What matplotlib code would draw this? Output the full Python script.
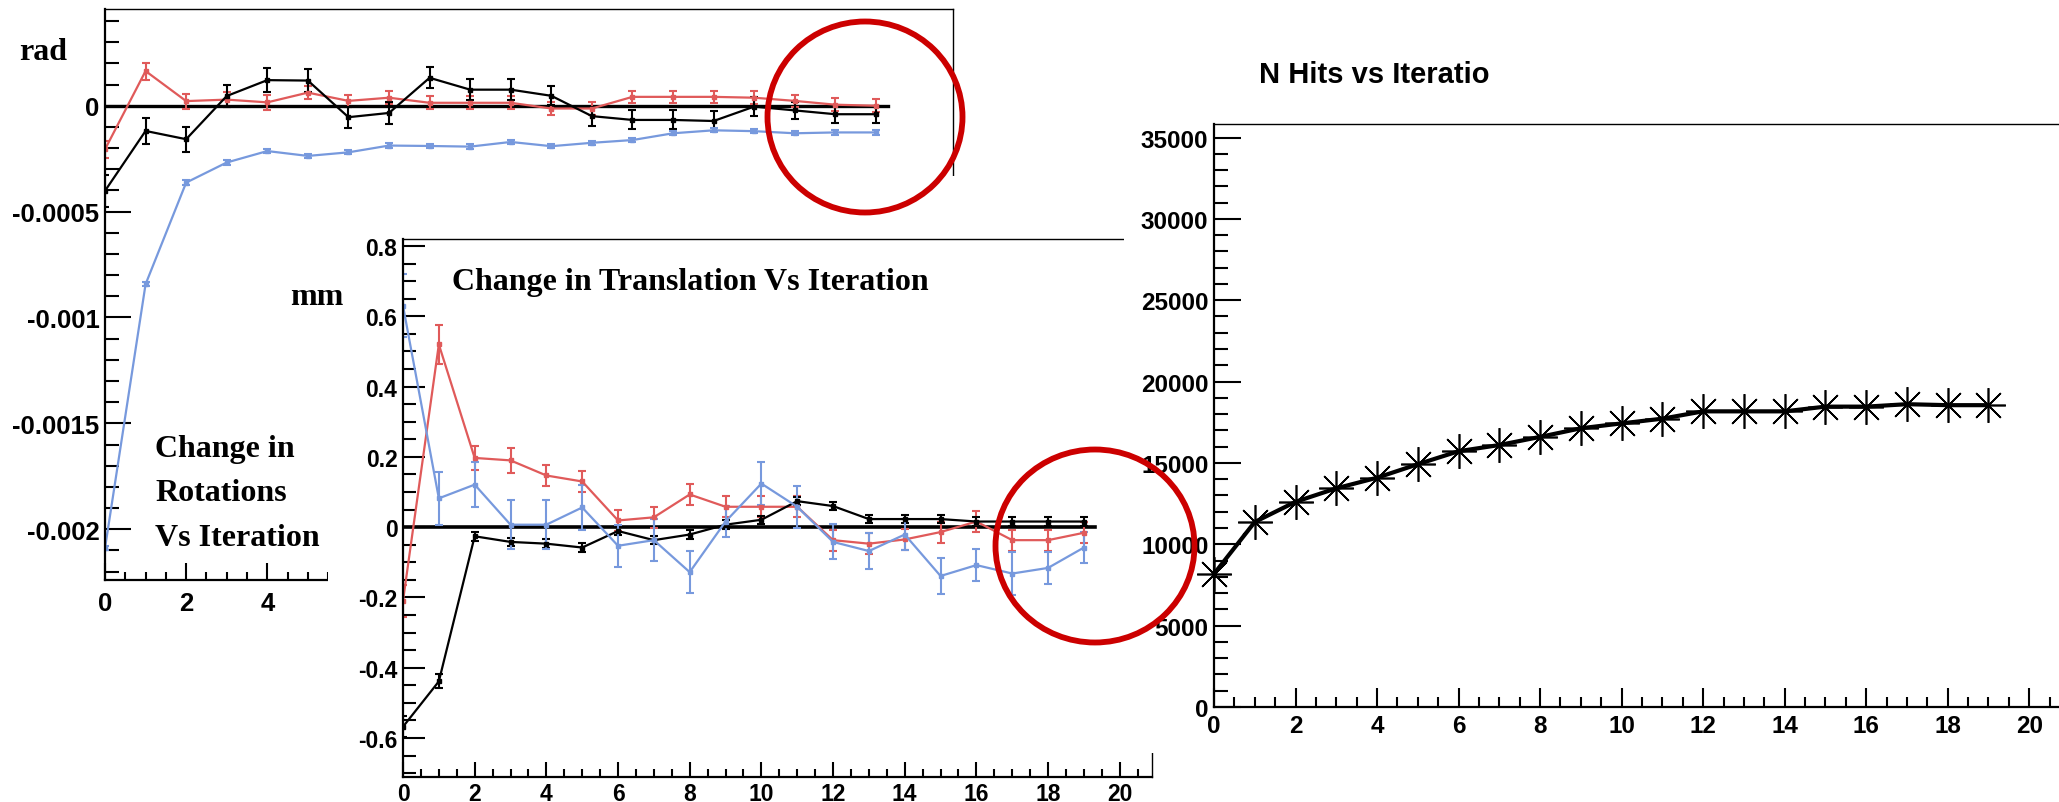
import matplotlib
matplotlib.use("Agg")
import matplotlib.pyplot as plt
from matplotlib.patches import Ellipse
from matplotlib.ticker import FixedLocator, MultipleLocator

# ---- data ----
iterations = list(range(20))

rot_black = [-4.02e-4, -1.19e-4, -1.58e-4, 4.6e-5, 1.21e-4, 1.19e-4, -5.4e-5, -3.4e-5,
             1.32e-4, 7.6e-5, 7.6e-5, 4.7e-5, -4.9e-5, -6.7e-5, -6.7e-5, -7.2e-5,
             -4e-6, -2.2e-5, -4e-5, -4e-5]
rot_black_err = [7.5e-5, 6.3e-5, 5.9e-5, 5.3e-5, 5.5e-5, 5.5e-5, 5e-5, 5e-5, 5e-5, 5e-5,
                 5e-5, 4.5e-5, 4.5e-5, 4.5e-5, 4.5e-5, 4.5e-5, 4.5e-5, 4e-5, 4e-5, 4e-5]
rot_red = [-2.06e-4, 1.64e-4, 2.2e-5, 2.9e-5, 1.6e-5, 6.2e-5, 2.3e-5, 3.8e-5, 1.4e-5,
           1.4e-5, 1.4e-5, -1.3e-5, -1.3e-5, 4.2e-5, 4.2e-5, 4.2e-5, 3.8e-5, 2.3e-5,
           5e-6, 0.0]
rot_red_err = [4e-5, 4e-5, 3.5e-5, 3.5e-5, 3.5e-5, 3e-5, 3e-5, 3e-5, 3e-5, 3e-5,
               3e-5, 3e-5, 3e-5, 3e-5, 3e-5, 3e-5, 3e-5, 3e-5, 3e-5, 3e-5]
rot_blue = [-2.09e-3, -8.43e-4, -3.63e-4, -2.68e-4, -2.14e-4, -2.37e-4, -2.2e-4, -1.88e-4,
            -1.9e-4, -1.93e-4, -1.71e-4, -1.91e-4, -1.75e-4, -1.62e-4, -1.3e-4, -1.16e-4,
            -1.2e-4, -1.3e-4, -1.26e-4, -1.26e-4]
rot_blue_err = [1e-5] * 20

tr_black = [-0.568, -0.439, -0.026, -0.042, -0.047, -0.058, -0.011, -0.037, -0.021, 0.007,
            0.021, 0.074, 0.060, 0.023, 0.023, 0.023, 0.016, 0.016, 0.016, 0.016]
tr_black_err = [0.03, 0.02, 0.012, 0.012, 0.012, 0.012, 0.012, 0.012, 0.012, 0.012,
                0.012, 0.012, 0.012, 0.012, 0.012, 0.012, 0.012, 0.012, 0.012, 0.012]
tr_red = [-0.21, 0.52, 0.197, 0.19, 0.147, 0.13, 0.019, 0.028, 0.093, 0.058, 0.058, 0.058,
          -0.037, -0.047, -0.035, -0.014, 0.016, -0.037, -0.037, -0.016]
tr_red_err = [0.045, 0.055, 0.035, 0.035, 0.03, 0.03, 0.03, 0.03, 0.03, 0.03,
              0.03, 0.03, 0.03, 0.03, 0.03, 0.03, 0.03, 0.03, 0.03, 0.03]
tr_blue = [0.63, 0.082, 0.121, 0.007, 0.007, 0.056, -0.053, -0.037, -0.128, 0.016, 0.124,
           0.058, -0.042, -0.068, -0.021, -0.139, -0.108, -0.132, -0.116, -0.058]
tr_blue_err = [0.09, 0.075, 0.065, 0.07, 0.07, 0.065, 0.06, 0.06, 0.06, 0.045, 0.06,
               0.06, 0.05, 0.05, 0.045, 0.05, 0.045, 0.06, 0.045, 0.045]

nhits = [8180, 11370, 12610, 13440, 14090, 14920, 15720, 16100, 16600, 17130, 17430,
         17720, 18170, 18170, 18170, 18460, 18460, 18610, 18550, 18550]

rot_ticks = [-0.002, -0.0015, -0.001, -0.0005, 0]
rot_ticklabels = ["-0.002", "-0.0015", "-0.001", "-0.0005", "0"]
tr_ticks = [-0.6, -0.4, -0.2, 0, 0.2, 0.4, 0.6, 0.8]
tr_ticklabels = ["-0.6", "-0.4", "-0.2", "0", "0.2", "0.4", "0.6", "0.8"]
hits_ticks = [0, 5000, 10000, 15000, 20000, 25000, 30000, 35000]
x_ticks = list(range(0, 21, 2))

RED = "#e05a5a"
BLUE = "#7799dd"
CIRCLE = "#cc0000"
SANS = "Liberation Sans"
SERIF = "Liberation Serif"

W, H = 2059, 803
fig = plt.figure(figsize=(W / 100, H / 100), dpi=100)


def px_axes(x0, y0, x1, y1, z):
    ax = fig.add_axes([x0 / W, 1 - y1 / H, (x1 - x0) / W, (y1 - y0) / H])
    ax.set_zorder(z)
    return ax


def cover(x0, y0, x1, y1, z):
    # white patch that hides the panel beneath, like a pasted screenshot
    ax = px_axes(x0, y0, x1, y1, z)
    ax.set_xticks([])
    ax.set_yticks([])
    for s in ax.spines.values():
        s.set_visible(False)
    ax.set_facecolor("white")
    return ax


def root_style(ax, ymaj, ylen, xlen, fsize, xpad=6):
    ax.tick_params(which="both", direction="in", top=False, right=False, width=1.5,
                   colors="black")
    ax.tick_params(axis="y", which="major", length=ylen[0], pad=4)
    ax.tick_params(axis="y", which="minor", length=ylen[1])
    ax.tick_params(axis="x", which="major", length=xlen[0], pad=xpad)
    ax.tick_params(axis="x", which="minor", length=xlen[1])
    ax.xaxis.set_major_locator(FixedLocator(x_ticks))
    ax.set_xticklabels([str(t) for t in x_ticks])
    ax.xaxis.set_minor_locator(MultipleLocator(0.5))
    ax.yaxis.set_minor_locator(MultipleLocator(ymaj))
    for lab in ax.get_xticklabels() + ax.get_yticklabels():
        lab.set_fontfamily(SANS)
        lab.set_fontweight("bold")
        lab.set_fontsize(fsize)
    ax.spines["left"].set_linewidth(1.6)
    ax.spines["bottom"].set_linewidth(1.6)
    ax.spines["top"].set_linewidth(1.0)
    ax.spines["right"].set_linewidth(1.0)


def series(ax, y, e, c, lw):
    ax.errorbar(iterations, y, yerr=e, color=c, lw=lw, elinewidth=1.5, capsize=3,
                capthick=1.5, marker="s", ms=3)


# ---- panel 1: rotations ----
ax1 = px_axes(105, 10, 953, 581, 0)
ax1.set_xlim(0, 20.9)
ax1.set_ylim(-0.00224, 0.000457)
ax1.yaxis.set_major_locator(FixedLocator(rot_ticks))
ax1.set_yticklabels(rot_ticklabels)
root_style(ax1, 1e-4, (19, 10), (12, 6), 18.5, xpad=8)
ax1.plot([0, iterations[-1] + 0.3], [0, 0], color="black", lw=2.4)
series(ax1, rot_red, rot_red_err, RED, 1.6)
series(ax1, rot_black, rot_black_err, "black", 1.6)
series(ax1, rot_blue, rot_blue_err, BLUE, 1.6)

cover(328, 177, W, H, 1)

# ---- panel 2: translations ----
ax2 = px_axes(403, 240, 1152, 778, 2)
ax2.set_xlim(0, 20.9)
ax2.set_ylim(-0.711, 0.82)
ax2.yaxis.set_major_locator(FixedLocator(tr_ticks))
ax2.set_yticklabels(tr_ticklabels)
root_style(ax2, 0.05, (16, 9), (10.5, 6), 16.5, xpad=3.5)
ax2.plot([0, iterations[-1] + 0.3], [0, 0], color="black", lw=2.6)
series(ax2, tr_red, tr_red_err, RED, 1.6)
series(ax2, tr_black, tr_black_err, "black", 1.6)
series(ax2, tr_blue, tr_blue_err, BLUE, 1.6)

cover(1124, 20, W, 754, 3)

# ---- panel 3: number of hits ----
ax3 = px_axes(1214, 125, 2070, 708, 4)
ax3.set_xlim(0, 21)
ax3.set_ylim(0, 35830)
ax3.yaxis.set_major_locator(FixedLocator(hits_ticks))
ax3.set_yticklabels([str(t) for t in hits_ticks])
root_style(ax3, 1000, (19.5, 10), (14, 7), 17.5, xpad=5)
ax3.plot(iterations, nhits, color="black", lw=3, marker=(8, 2, 0), ms=25, mew=1.2,
         clip_on=False)

# ---- overlay texts and red circles ----
ov = px_axes(0, 0, W, H, 5)
ov.set_xlim(0, W)
ov.set_ylim(H, 0)
ov.axis("off")
serif = dict(family=SERIF, weight="bold", fontsize=23, color="black")
ov.text(19, 52, "rad", va="center", ha="left", **serif)
ov.text(290, 298, "mm", va="center", ha="left", **serif)
ov.text(690, 283, "Change in Translation Vs Iteration", va="center", ha="center", **serif)
ov.text(155, 494, "Change in\nRotations\nVs Iteration", va="center", ha="left",
        linespacing=1.72, **serif)
ov.text(1259, 75, "N Hits vs Iteratio", va="center", ha="left", family=SANS,
        weight="bold", fontsize=21)
ov.add_patch(Ellipse((865, 118), 195, 191, fill=False, ec=CIRCLE, lw=4.2))
ov.add_patch(Ellipse((1095, 547), 199, 193, fill=False, ec=CIRCLE, lw=4.2))

fig.savefig("out.png", dpi=100)
